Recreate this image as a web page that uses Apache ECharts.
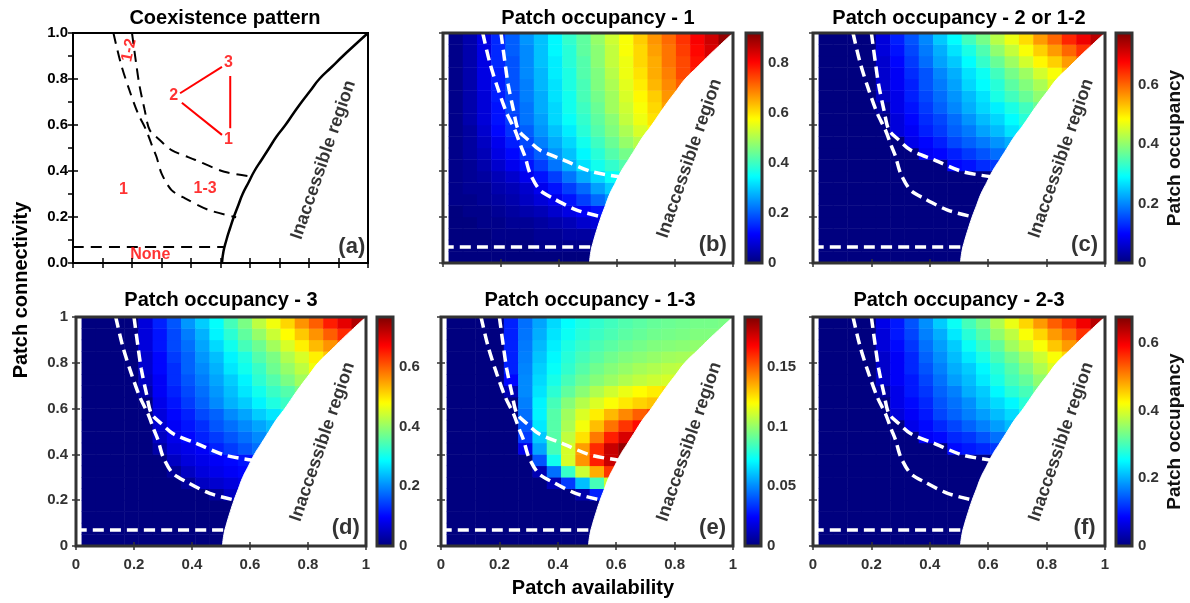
<!DOCTYPE html>
<html><head><meta charset="utf-8">
<script src="https://cdn.jsdelivr.net/npm/echarts@6/dist/echarts.min.js"></script>
<style>html,body{margin:0;padding:0;background:#fff}#c{width:1190px;height:603px}</style>
</head><body><div id="c"></div>
<script>
// ---------- data ----------
const xCellCenters = ['0.045','0.094','0.143','0.192','0.241','0.290','0.339','0.388','0.437','0.486','0.535','0.584','0.633','0.682','0.731','0.780','0.829','0.878','0.927','0.976'];
const yCellCenters = ['0.025','0.075','0.125','0.175','0.225','0.275','0.325','0.375','0.425','0.475','0.525','0.575','0.625','0.675','0.725','0.775','0.825','0.875','0.925','0.975'];

const boundary = [[0.505,0],[0.51,0.05],[0.52,0.1],[0.532,0.15],[0.545,0.2],[0.56,0.25],[0.575,0.3],[0.595,0.35],[0.615,0.4],[0.64,0.45],[0.665,0.5],[0.69,0.55],[0.72,0.6],[0.747,0.65],[0.775,0.7],[0.805,0.75],[0.835,0.8],[0.875,0.85],[0.915,0.9],[0.957,0.95],[1,1]];
const curveL1 = [[0.137,1.0],[0.162,0.868],[0.191,0.752],[0.22,0.651],[0.248,0.578],[0.268,0.51],[0.283,0.462],[0.30,0.39],[0.334,0.317],[0.38,0.281],[0.461,0.23],[0.553,0.199]];
const curveL2 = [[0.20,1.0],[0.214,0.868],[0.225,0.774],[0.243,0.665],[0.26,0.578],[0.294,0.535],[0.334,0.491],[0.415,0.448],[0.513,0.397],[0.61,0.375]];
const noneLine = [[0,0.07],[0.515,0.07]];
const triangleEdges = [[[0.363,0.738],[0.505,0.853]],[[0.369,0.697],[0.505,0.557]],[[0.533,0.813],[0.533,0.586]]];

// rows from bottom (y=0.025) to top (y=0.975)
const occupancy1 = [
[0,0,0,0,0,0,0,0,0,0,0],
[0,0,0,0,0,0,0.01,0.01,0.01,0.01,0.01],
[0,0,0,0.01,0.01,0.01,0.02,0.02,0.03,0.03,0.04],
[0,0,0.01,0.01,0.02,0.02,0.03,0.04,0.05,0.07,0.08],
[0,0.01,0.01,0.02,0.03,0.04,0.05,0.07,0.09,0.11,0.13,0.15],
[0.01,0.01,0.02,0.03,0.04,0.06,0.08,0.10,0.13,0.17,0.21,0.25],
[0.01,0.02,0.02,0.04,0.05,0.07,0.10,0.13,0.17,0.21,0.26,0.30],
[0.01,0.02,0.03,0.05,0.07,0.10,0.13,0.17,0.22,0.27,0.31,0.35,0.38],
[0.01,0.02,0.04,0.07,0.10,0.13,0.17,0.22,0.27,0.32,0.36,0.39,0.42],
[0.01,0.03,0.05,0.09,0.12,0.16,0.20,0.25,0.29,0.34,0.38,0.42,0.45,0.48],
[0.01,0.03,0.06,0.10,0.14,0.18,0.23,0.27,0.31,0.36,0.40,0.44,0.48,0.51],
[0.01,0.03,0.07,0.12,0.16,0.20,0.25,0.29,0.33,0.38,0.42,0.46,0.50,0.54,0.58],
[0.01,0.04,0.08,0.13,0.17,0.22,0.26,0.31,0.35,0.39,0.43,0.47,0.52,0.56,0.60],
[0.01,0.04,0.08,0.13,0.18,0.22,0.27,0.31,0.36,0.40,0.44,0.49,0.53,0.57,0.61,0.66],
[0.01,0.04,0.08,0.14,0.18,0.23,0.27,0.32,0.36,0.41,0.45,0.49,0.54,0.58,0.62,0.67,0.71],
[0.01,0.04,0.09,0.14,0.19,0.23,0.28,0.32,0.37,0.41,0.46,0.50,0.55,0.59,0.64,0.68,0.72],
[0.01,0.04,0.09,0.14,0.19,0.24,0.28,0.33,0.37,0.42,0.46,0.51,0.56,0.60,0.65,0.69,0.74,0.78],
[0.01,0.04,0.09,0.15,0.19,0.24,0.29,0.33,0.38,0.42,0.47,0.52,0.56,0.61,0.65,0.70,0.74,0.79,0.83],
[0.01,0.04,0.09,0.15,0.20,0.24,0.29,0.34,0.38,0.43,0.47,0.52,0.57,0.61,0.66,0.70,0.75,0.80,0.84,0.89],
[0.01,0.04,0.09,0.15,0.20,0.25,0.29,0.34,0.39,0.43,0.48,0.53,0.57,0.62,0.67,0.71,0.76,0.81,0.85,0.90]
];
const occupancy2or12 = [
[0,0,0,0,0,0,0,0,0,0,0],
[0,0,0,0,0,0,0,0,0,0,0],
[0,0,0,0,0,0,0,0,0,0,0],
[0,0,0,0,0,0,0,0,0,0,0],
[0,0,0,0,0,0,0,0,0,0,0,0],
[0,0,0,0,0,0,0,0,0,0,0,0],
[0,0,0,0,0,0,0,0,0,0,0,0],
[0,0,0,0,0,0,0,0,0,0,0,0,0],
[0,0,0,0,0,0,0,0,0,0.10,0.11,0.13,0.14],
[0,0,0,0,0,0,0,0.09,0.10,0.12,0.14,0.16,0.18,0.20],
[0,0,0,0,0,0,0.08,0.10,0.12,0.15,0.17,0.19,0.21,0.23],
[0,0,0,0,0,0.07,0.09,0.12,0.14,0.17,0.19,0.22,0.24,0.27,0.29],
[0,0,0,0,0,0.07,0.10,0.13,0.15,0.18,0.21,0.24,0.26,0.29,0.32],
[0,0,0,0,0.02,0.08,0.11,0.14,0.17,0.20,0.23,0.26,0.28,0.31,0.34,0.37],
[0,0,0,0,0.05,0.08,0.12,0.15,0.18,0.21,0.24,0.27,0.31,0.34,0.37,0.40,0.43],
[0,0,0,0,0.06,0.09,0.12,0.16,0.19,0.22,0.26,0.29,0.32,0.36,0.39,0.42,0.46],
[0,0,0,0,0.06,0.09,0.13,0.16,0.20,0.23,0.27,0.30,0.34,0.38,0.41,0.45,0.48,0.52],
[0,0,0,0,0.06,0.10,0.14,0.18,0.22,0.25,0.29,0.33,0.37,0.41,0.45,0.49,0.52,0.56,0.60],
[0,0,0,0,0.07,0.11,0.15,0.19,0.23,0.27,0.31,0.35,0.40,0.44,0.48,0.52,0.56,0.60,0.64,0.68],
[0,0,0,0,0.07,0.12,0.16,0.20,0.25,0.29,0.34,0.38,0.43,0.47,0.51,0.56,0.60,0.65,0.69,0.73]
];
const occupancy3 = [
[0,0,0,0,0,0,0,0,0,0,0],
[0,0,0,0,0,0,0,0,0,0,0],
[0,0,0,0,0,0,0,0,0,0,0],
[0,0,0,0,0,0,0,0,0,0,0],
[0,0,0,0,0,0,0,0,0,0.02,0.05,0.06],
[0,0,0,0,0,0,0,0.02,0.05,0.06,0.07,0.08],
[0,0,0,0,0,0,0.02,0.05,0.07,0.08,0.09,0.10],
[0,0,0,0,0,0,0.05,0.07,0.08,0.09,0.10,0.11,0.12],
[0,0,0,0,0,0.03,0.07,0.08,0.09,0.12,0.14,0.16,0.18],
[0,0,0,0,0,0.05,0.08,0.10,0.12,0.14,0.16,0.18,0.20,0.22],
[0,0,0,0,0,0.06,0.09,0.11,0.13,0.16,0.18,0.20,0.22,0.24],
[0,0,0,0,0,0.07,0.10,0.12,0.15,0.17,0.20,0.22,0.25,0.27,0.30],
[0,0,0,0,0,0.08,0.11,0.14,0.17,0.20,0.23,0.25,0.28,0.31,0.33],
[0,0,0,0,0.03,0.09,0.12,0.15,0.18,0.21,0.24,0.27,0.30,0.33,0.35,0.38],
[0,0,0,0,0.05,0.09,0.13,0.16,0.19,0.22,0.25,0.28,0.32,0.35,0.38,0.41,0.44],
[0,0,0,0,0.06,0.10,0.13,0.17,0.20,0.23,0.27,0.30,0.33,0.37,0.40,0.43,0.47],
[0,0,0,0,0.06,0.10,0.14,0.17,0.21,0.24,0.28,0.31,0.35,0.38,0.42,0.45,0.49,0.52],
[0,0,0,0,0.07,0.11,0.15,0.18,0.22,0.26,0.30,0.34,0.37,0.41,0.45,0.49,0.53,0.56,0.60],
[0,0,0,0,0.07,0.11,0.15,0.19,0.23,0.28,0.32,0.36,0.40,0.44,0.48,0.52,0.56,0.60,0.64,0.68],
[0,0,0,0,0.07,0.12,0.16,0.21,0.25,0.29,0.34,0.38,0.43,0.47,0.51,0.56,0.60,0.65,0.69,0.73]
];
const occupancy13 = [
[0,0,0,0,0,0,0,0,0,0,0],
[0,0,0,0,0,0,0,0,0,0,0],
[0,0,0,0,0,0,0,0,0,0,0],
[0,0,0,0,0,0,0,0,0,0,0],
[0,0,0,0,0,0,0,0,0,0.008,0.03,0.055],
[0,0,0,0,0,0,0,0.01,0.035,0.06,0.085,0.11],
[0,0,0,0,0,0,0.01,0.045,0.082,0.11,0.135,0.158],
[0,0,0,0,0,0,0.04,0.075,0.112,0.14,0.162,0.178,0.19],
[0,0,0,0,0,0.02,0.055,0.085,0.112,0.138,0.16,0.178,0.188],
[0,0,0,0,0,0.035,0.062,0.088,0.108,0.125,0.145,0.162,0.175,0.182],
[0,0,0,0,0,0.04,0.068,0.088,0.104,0.118,0.132,0.146,0.158,0.166],
[0,0,0,0,0,0.045,0.07,0.088,0.102,0.113,0.123,0.133,0.142,0.15,0.155],
[0,0,0,0,0,0.048,0.07,0.085,0.097,0.106,0.113,0.119,0.124,0.128,0.131],
[0,0,0,0,0.01,0.05,0.067,0.08,0.09,0.098,0.105,0.111,0.116,0.12,0.123,0.125],
[0,0,0,0,0.025,0.05,0.065,0.076,0.085,0.092,0.097,0.101,0.105,0.108,0.11,0.112,0.113],
[0,0,0,0,0.03,0.049,0.063,0.073,0.081,0.088,0.093,0.097,0.10,0.103,0.105,0.107,0.108],
[0,0,0,0,0.03,0.048,0.061,0.071,0.079,0.085,0.089,0.093,0.096,0.098,0.10,0.102,0.103,0.104],
[0,0,0,0,0.03,0.047,0.059,0.069,0.077,0.082,0.086,0.089,0.092,0.094,0.096,0.097,0.098,0.099,0.10],
[0,0,0,0,0.03,0.046,0.057,0.067,0.074,0.079,0.083,0.086,0.089,0.091,0.093,0.094,0.095,0.096,0.096,0.097],
[0,0,0,0,0.03,0.045,0.055,0.065,0.072,0.077,0.081,0.084,0.087,0.089,0.091,0.092,0.093,0.094,0.094,0.095]
];
const occupancy23 = [
[0,0,0,0,0,0,0,0,0,0,0],
[0,0,0,0,0,0,0,0,0,0,0],
[0,0,0,0,0,0,0,0,0,0,0],
[0,0,0,0,0,0,0,0,0,0,0],
[0,0,0,0,0,0,0,0,0,0,0,0],
[0,0,0,0,0,0,0,0,0,0,0,0],
[0,0,0,0,0,0,0,0,0,0,0,0],
[0,0,0,0,0,0,0,0,0,0,0,0,0],
[0,0,0,0,0,0,0,0,0,0.09,0.10,0.11,0.12],
[0,0,0,0,0,0,0,0.08,0.09,0.11,0.12,0.14,0.16,0.17],
[0,0,0,0,0,0,0.07,0.09,0.11,0.13,0.15,0.17,0.19,0.21],
[0,0,0,0,0,0.06,0.08,0.10,0.13,0.15,0.17,0.19,0.21,0.23,0.26],
[0,0,0,0,0,0.07,0.09,0.11,0.14,0.16,0.18,0.21,0.23,0.25,0.28],
[0,0,0,0,0.02,0.07,0.10,0.12,0.15,0.17,0.20,0.22,0.25,0.28,0.30,0.33],
[0,0,0,0,0.05,0.08,0.10,0.13,0.16,0.19,0.21,0.24,0.27,0.30,0.32,0.35,0.38],
[0,0,0,0,0.05,0.08,0.11,0.14,0.17,0.20,0.22,0.25,0.28,0.31,0.34,0.37,0.40],
[0,0,0,0,0.05,0.08,0.11,0.15,0.18,0.21,0.24,0.27,0.30,0.33,0.36,0.39,0.42,0.45],
[0,0,0,0,0.06,0.09,0.12,0.16,0.19,0.22,0.26,0.29,0.32,0.36,0.39,0.42,0.46,0.49,0.52],
[0,0,0,0,0.06,0.10,0.13,0.17,0.20,0.24,0.28,0.31,0.35,0.38,0.42,0.45,0.49,0.52,0.56,0.60],
[0,0,0,0,0.07,0.10,0.14,0.18,0.22,0.26,0.30,0.33,0.37,0.41,0.45,0.49,0.53,0.56,0.60,0.64]
];
const colorbarMax = {b:0.92, c:0.775, d:0.767, e:0.1917, f:0.677};
const colorbarStep = {b:0.2, c:0.2, d:0.2, e:0.05, f:0.2};

// ---------- chart ----------
const FONT = '"Liberation Sans", Arial, Helvetica, sans-serif';
const JET = ['#00007F','#0000FF','#007FFF','#00FFFF','#7FFF7F','#FFFF00','#FF7F00','#FF0000','#7F0000'];
const grid=[], xAxis=[], yAxis=[], series=[], visualMap=[];

function addGrid(l,t,w,h,extra){
  grid.push(Object.assign({left:l,top:t,width:w,height:h,containLabel:false,outerBoundsMode:'none'},extra||{}));
  return grid.length-1;
}
function labelFmt(step, fixed){
  return function(v){
    const k=v/step; if(Math.abs(k-Math.round(k))>1e-6) return '';
    return fixed!=null ? v.toFixed(fixed) : String(Math.round(v*1000)/1000);
  };
}
function valueAxis(kind, gi, position, o){
  const ax = {type:'value', gridIndex:gi, position:position, min:0, max:(o.max==null?1:o.max), interval:o.interval, z:6,
    axisLine:{show:false}, splitLine:{show:false},
    axisTick:{show:o.ticks!==false, inside:true, length:o.tickLen||4, lineStyle:{color:o.tickColor||'#333', width:1.5}},
    axisLabel:{show:!!o.labels, margin:(o.margin==null?8:o.margin), color:o.labelColor||'#333', fontFamily:FONT, fontWeight:'bold', fontSize:15, formatter:labelFmt(o.interval,o.fixed)}};
  const arr = kind==='x'?xAxis:yAxis; arr.push(ax); return arr.length-1;
}
function lineSeries(xi, yi, data, style, extra){
  series.push(Object.assign({type:'line', xAxisIndex:xi, yAxisIndex:yi, data:data, symbol:'none', silent:true, lineStyle:style, z:4, animation:false}, extra||{}));
}
function textSeries(xi, yi, items){
  series.push({type:'scatter', xAxisIndex:xi, yAxisIndex:yi, symbolSize:1, itemStyle:{color:'rgba(0,0,0,0)'}, silent:true, z:5,
    data: items.map(t=>({value:[t.x,t.y], label:{show:true, position:'inside', formatter:t.text, rotate:t.rotate||0, fontSize:t.size, color:t.color||'#000', fontFamily:FONT, fontWeight:'bold'}}))});
}

// Panel (a)
(function(){
  const ga = addGrid(73,33,295,230,{show:true,borderColor:'#000',borderWidth:2,z:10});
  const xb = valueAxis('x',ga,'bottom',{interval:0.1,tickLen:5,tickColor:'#000'});
  valueAxis('x',ga,'top',{interval:0.1,tickLen:5,tickColor:'#000'});
  const yl = valueAxis('y',ga,'left',{interval:0.2,tickLen:5,tickColor:'#000',labels:true,fixed:1,labelColor:'#000',margin:5});
  valueAxis('y',ga,'right',{interval:0.1,tickLen:5,tickColor:'#000'});
  lineSeries(xb, yl, boundary, {color:'#000', width:2.5}, {smooth:true});
  [curveL1, curveL2, noneLine].forEach(d=>lineSeries(xb, yl, d, {color:'#000', width:2, type:[11,7]}, {smooth:0.3}));
  triangleEdges.forEach(d=>lineSeries(xb, yl, d, {color:'#f00', width:2}));
  textSeries(xb, yl, [
    {x:0.19,y:0.925,text:'1-2',rotate:78,size:16,color:'#f00'},
    {x:0.341,y:0.726,text:'2',size:16,color:'#f00'},
    {x:0.527,y:0.871,text:'3',size:16,color:'#f00'},
    {x:0.527,y:0.535,text:'1',size:16,color:'#f00'},
    {x:0.171,y:0.317,text:'1',size:16,color:'#f00'},
    {x:0.448,y:0.325,text:'1-3',size:16,color:'#f00'},
    {x:0.262,y:0.035,text:'None',size:16,color:'#f00'},
    {x:0.849,y:0.448,text:'Inaccessible region',rotate:71,size:18},
    {x:0.945,y:0.071,text:'(a)',size:22}
  ]);
})();

function heatPanel(p){
  const l=p.rect[0], t=p.rect[1], w=p.rect[2], h=p.rect[3];
  const hg = addGrid(l + w*0.02, t, w*0.98, h);
  xAxis.push({type:'category', gridIndex:hg, data:xCellCenters, show:false});
  const hx = xAxis.length-1;
  yAxis.push({type:'category', gridIndex:hg, data:yCellCenters, show:false});
  const hy = yAxis.length-1;
  const data=[]; p.rows.forEach((row,i)=>row.forEach((v,j)=>data.push([j,i,v])));
  series.push({type:'heatmap', xAxisIndex:hx, yAxisIndex:hy, data:data, z:2, silent:true, progressive:0, emphasis:{disabled:true}});
  visualMap.push({type:'continuous', seriesIndex:series.length-1, dimension:2, min:0, max:p.max, calculable:false, orient:'vertical',
    left:p.cb, top:t, itemWidth:16, itemHeight:h, padding:0, inRange:{color:JET}, hoverLink:false, z:4});
  const vg = addGrid(l,t,w,h,{show:true,borderColor:'#333',borderWidth:3,z:10});
  const vx = valueAxis('x',vg,'bottom',{interval:0.2, labels:p.xLabels, margin:11});
  valueAxis('x',vg,'top',{interval:0.2});
  const vy = valueAxis('y',vg,'left',{interval:0.2, labels:p.yLabels, margin:8});
  valueAxis('y',vg,'right',{interval:0.2});
  lineSeries(vx, vy, boundary, {color:'#fff', width:1}, {smooth:true, areaStyle:{color:'#fff', opacity:1, origin:'start'}, z:3});
  [curveL1, curveL2, noneLine].forEach(d=>lineSeries(vx, vy, d, {color:'#fff', width:3.5, type:[11,6]}, {smooth:0.3, z:4}));
  textSeries(vx, vy, [
    {x:0.85,y:0.455,text:'Inaccessible region',rotate:71,size:18},
    {x:0.93,y:0.08,text:p.tag,size:22}
  ]);
  const cg = addGrid(p.cb, t, 16, h, {show:true,borderColor:'#333',borderWidth:3,z:10});
  xAxis.push({type:'value', gridIndex:cg, show:false, min:0, max:1});
  const cy = valueAxis('y', cg, 'right', {max:p.max, interval:p.step, labels:true, ticks:false, margin:6});
  if (p.cbTitle) Object.assign(yAxis[cy], {name:p.cbTitle, nameLocation:'middle', nameRotate:90, nameGap:33,
    nameTextStyle:{fontFamily:FONT, fontWeight:'bold', fontSize:19, color:'#111'}});
}

heatPanel({rect:[443,33,290,230], cb:746, rows:occupancy1, max:colorbarMax.b, step:colorbarStep.b, tag:'(b)'});
heatPanel({rect:[813,33,292,230], cb:1116, rows:occupancy2or12, max:colorbarMax.c, step:colorbarStep.c, tag:'(c)', cbTitle:'Patch occupancy'});
heatPanel({rect:[76,317,290,229], cb:377, rows:occupancy3, max:colorbarMax.d, step:colorbarStep.d, tag:'(d)', xLabels:true, yLabels:true});
heatPanel({rect:[441,317,292,229], cb:745, rows:occupancy13, max:colorbarMax.e, step:colorbarStep.e, tag:'(e)', xLabels:true});
heatPanel({rect:[813,317,292,229], cb:1116, rows:occupancy23, max:colorbarMax.f, step:colorbarStep.f, tag:'(f)', xLabels:true, cbTitle:'Patch occupancy'});

const titleStyle = {fontFamily:FONT, fontWeight:'bold', fontSize:20, color:'#000'};
const titles = [
  ['Coexistence pattern',225,8],['Patch occupancy - 1',598,8],['Patch occupancy - 2 or 1-2',959,8],
  ['Patch occupancy - 3',221,290],['Patch occupancy - 1-3',590,290],['Patch occupancy - 2-3',959,290]
].map(a=>({text:a[0], left:a[1], top:a[2], textAlign:'center', padding:0, textStyle:titleStyle}));

const chart = echarts.init(document.getElementById('c'), null, {renderer:'canvas'});
chart.setOption({
  animation:false,
  backgroundColor:'#fff',
  title:titles, grid:grid, xAxis:xAxis, yAxis:yAxis, visualMap:visualMap, series:series,
  graphic:[
    {type:'text', x:21, y:290, rotation:Math.PI/2, z:100, style:{text:'Patch connectivity', font:'bold 20px '+FONT, textAlign:'center', textVerticalAlign:'middle', fill:'#000'}},
    {type:'text', x:593, y:588, z:100, style:{text:'Patch availability', font:'bold 20px '+FONT, textAlign:'center', textVerticalAlign:'middle', fill:'#000'}}
  ]
});
</script></body></html>
